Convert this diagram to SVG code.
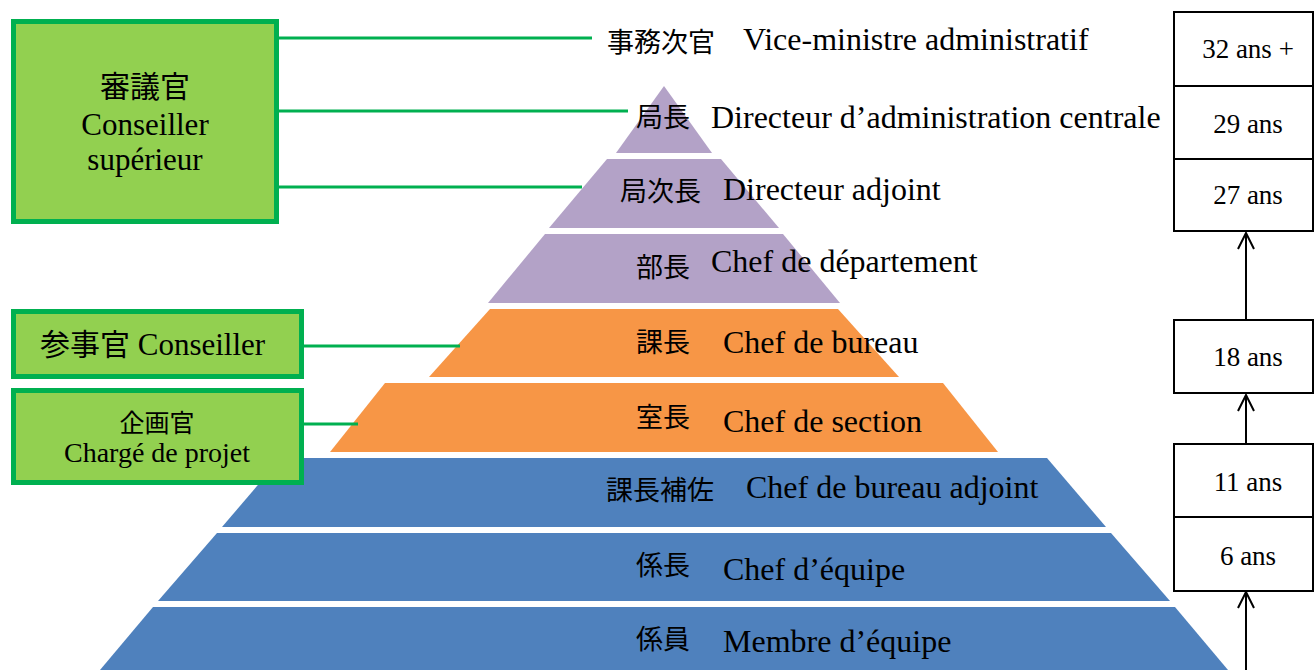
<svg xmlns="http://www.w3.org/2000/svg" width="1315" height="670" viewBox="0 0 1315 670">
<style>
.fr{font-family:"Liberation Serif","Times New Roman",serif;font-size:32px;fill:#000}
.jp{font-family:"Noto Sans CJK JP","Noto Sans CJK SC",sans-serif;font-size:27px;fill:#000}
.age{font-family:"Liberation Serif","Times New Roman",serif;font-size:27px;fill:#000;text-anchor:middle}
.gbox{fill:#92D050;stroke:#00B050;stroke-width:5}
.gline{stroke:#00B050;stroke-width:3;fill:none}
.abox{fill:#fff;stroke:#000;stroke-width:2}
.arr{stroke:#000;stroke-width:2;fill:none}
.purple{fill:#B3A2C7}
.orange{fill:#F79646}
.blue{fill:#4F81BD}
.ctr{text-anchor:middle}
</style>
<defs>
<marker id="ah" viewBox="-18 -10 20 20" refX="0" refY="0" markerWidth="20" markerHeight="20" markerUnits="userSpaceOnUse" orient="auto">
<path d="M-16,-8 L0,0 L-16,8" fill="none" stroke="#000" stroke-width="2"/>
</marker>
</defs>
<rect width="1315" height="670" fill="#fff"/>
<g id="pyramid">
<g id="lvl1"><polygon class="purple" points="664,86 712,153 616,153"/></g>
<g id="lvl2"><polygon class="purple" points="607,159 721,159 779,228 549,228"/></g>
<g id="lvl3"><polygon class="purple" points="545,234 783,234 840,303 488,303"/></g>
<g id="lvl4"><polygon class="orange" points="490,309 838,309 899,377 429,377"/></g>
<g id="lvl5"><polygon class="orange" points="385,383 943,383 998,452 330,452"/></g>
<g id="lvl6"><polygon class="blue" points="281,458 1047,458 1106,527 222,527"/></g>
<g id="lvl7"><polygon class="blue" points="217,533 1111,533 1170,601 158,601"/></g>
<g id="lvl8"><polygon class="blue" points="153,607 1175,607 1228,670 100,670"/></g>
</g>
<g id="connectors">
<line class="gline" x1="279" y1="38" x2="592" y2="38"/>
<line class="gline" x1="279" y1="111" x2="628" y2="111"/>
<line class="gline" x1="279" y1="187" x2="582" y2="187"/>
<line class="gline" x1="302" y1="346" x2="460" y2="346"/>
<line class="gline" x1="302" y1="424" x2="358" y2="424"/>
<line class="arr" x1="1246" y1="670" x2="1246" y2="592" marker-end="url(#ah)"/>
<line class="arr" x1="1246" y1="444" x2="1246" y2="395" marker-end="url(#ah)"/>
<line class="arr" x1="1246" y1="320" x2="1246" y2="233" marker-end="url(#ah)"/>
</g>
<g id="labels">
<text class="jp" x="607" y="52">事務次官</text><text class="fr" x="743" y="50">Vice-ministre administratif</text>
<text class="jp" x="636" y="127">局長</text><text class="fr" x="711" y="128">Directeur d’administration centrale</text>
<text class="jp" x="620" y="201">局次長</text><text class="fr" x="723" y="200">Directeur adjoint</text>
<text class="jp" x="636" y="277">部長</text><text class="fr" x="711" y="272">Chef de département</text>
<text class="jp" x="636" y="352">課長</text><text class="fr" x="723" y="353">Chef de bureau</text>
<text class="jp" x="636" y="427">室長</text><text class="fr" x="723" y="432">Chef de section</text>
<text class="jp" x="606" y="500">課長補佐</text><text class="fr" x="746" y="498">Chef de bureau adjoint</text>
<text class="jp" x="636" y="575">係長</text><text class="fr" x="723" y="580">Chef d’équipe</text>
<text class="jp" x="636" y="649">係員</text><text class="fr" x="723" y="652">Membre d’équipe</text>
</g>
<g id="box-shingikan">
<rect class="gbox" x="13.5" y="21.5" width="263" height="200"/>
<text class="jp ctr" x="145" y="97" style="font-size:30px">審議官</text>
<text class="fr ctr" x="145" y="135" style="font-size:31px">Conseiller</text>
<text class="fr ctr" x="145" y="170" style="font-size:31px">supérieur</text>
</g>
<g id="box-sanjikan">
<rect class="gbox" x="13.5" y="311.5" width="288" height="65"/>
<text class="fr" x="40" y="355" style="font-size:31px"><tspan class="jp" style="font-size:30px">参事官</tspan> Conseiller</text>
</g>
<g id="box-kikakukan">
<rect class="gbox" x="13.5" y="390.5" width="288" height="92"/>
<text class="jp ctr" x="157" y="432" style="font-size:25px">企画官</text>
<text class="fr ctr" x="157" y="462" style="font-size:28px">Chargé de projet</text>
</g>
<g id="age-32"><rect class="abox" x="1174" y="12" width="139" height="74"/><text class="age" x="1248" y="58">32 ans +</text></g>
<g id="age-29"><rect class="abox" x="1174" y="86" width="139" height="73"/><text class="age" x="1248" y="133">29 ans</text></g>
<g id="age-27"><rect class="abox" x="1174" y="159" width="139" height="72"/><text class="age" x="1248" y="204">27 ans</text></g>
<g id="age-18"><rect class="abox" x="1174" y="320" width="139" height="73"/><text class="age" x="1248" y="366">18 ans</text></g>
<g id="age-11"><rect class="abox" x="1174" y="444" width="139" height="73"/><text class="age" x="1248" y="491">11 ans</text></g>
<g id="age-6"><rect class="abox" x="1174" y="517" width="139" height="74"/><text class="age" x="1248" y="565">6 ans</text></g>
</svg>
